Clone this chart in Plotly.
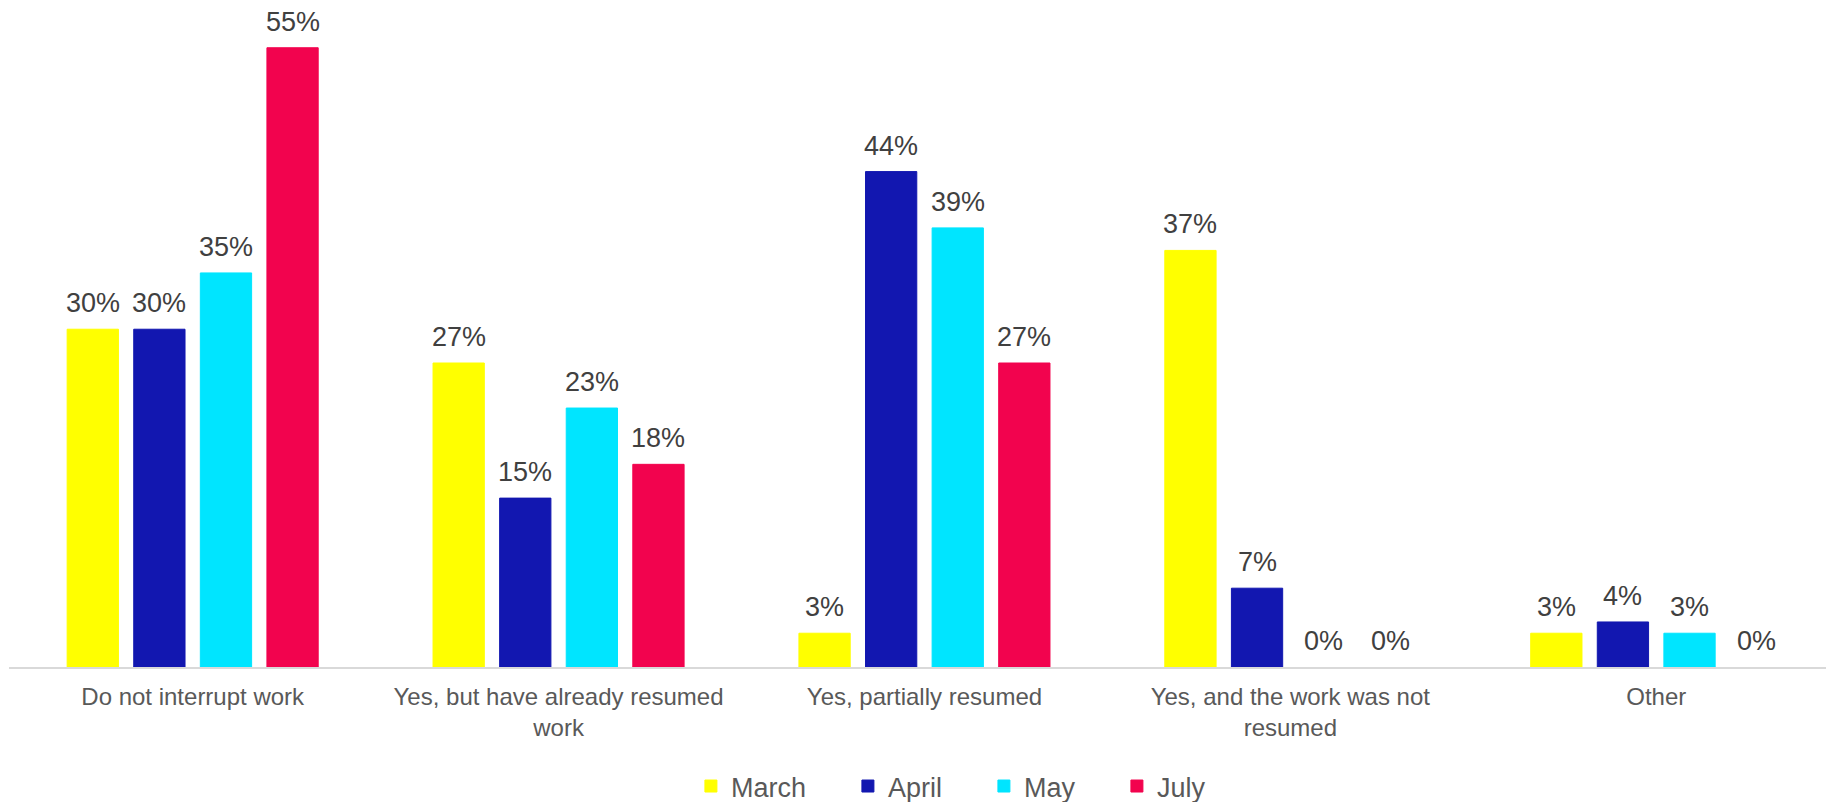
import plotly.graph_objects as go

categories = [
    "Do not interrupt work",
    "Yes, but have already resumed<br>work",
    "Yes, partially resumed",
    "Yes, and the work was not<br>resumed",
    "Other",
]
series_names = ["March", "April", "May", "July"]
march = [30, 27, 3, 37, 3]
april = [30, 15, 44, 7, 4]
may = [35, 23, 39, 0, 3]
july = [55, 18, 27, 0, 0]
colors = ["#FFFF00", "#1217B0", "#00E5FF", "#F2034E"]
legend_widths = [112, 91, 88, 90]

BARGAP = 0.272
BARGROUPGAP = 0.23
FONT = "Liberation Sans, Arial, sans-serif"

all_series = [march, april, may, july]
n_series = len(all_series)
slot = (1 - BARGAP) / n_series

fig = go.Figure()
annotations = []
for k, (name, vals, col, lw) in enumerate(zip(series_names, all_series, colors, legend_widths)):
    fig.add_trace(go.Bar(
        name=name,
        x=list(range(len(categories))),
        y=vals,
        marker=dict(color=col, line=dict(width=[1 if v > 0 else 0 for v in vals], color=col)),
        legendwidth=lw,
        hoverinfo="skip",
    ))
    offset = (k - (n_series - 1) / 2) * slot
    for i, v in enumerate(vals):
        annotations.append(dict(
            x=i + offset, y=v, xref="x", yref="y",
            text=f"{v}%", showarrow=False,
            yanchor="middle", xanchor="center", yshift=26,
            font=dict(family=FONT, size=27, color="#404040"),
        ))

fig.update_layout(
    width=1826, height=802,
    margin=dict(l=9, r=0, t=0, b=135, autoexpand=False),
    paper_bgcolor="white", plot_bgcolor="white",
    barmode="group",
    bargap=BARGAP,
    bargroupgap=BARGROUPGAP,
    font=dict(family=FONT, color="#595959"),
    showlegend=True,
    annotations=annotations,
    legend=dict(
        orientation="h",
        x=0.3753, xanchor="left",
        y=-0.1424, yanchor="top",
        font=dict(family=FONT, size=27, color="#595959"),
        itemclick=False, itemdoubleclick=False,
    ),
    xaxis=dict(
        tickmode="array",
        tickvals=list(range(len(categories))),
        ticktext=categories,
        range=[-0.502, 4.464],
        showline=True, linecolor="#D9D9D9", linewidth=1.5,
        ticks="", showgrid=False, zeroline=False,
        tickfont=dict(size=24, color="#595959"),
        ticklabelstandoff=7,
        automargin=False,
    ),
    yaxis=dict(
        range=[0, 59.24],
        visible=False, showgrid=False, zeroline=False,
        automargin=False,
    ),
)

# remove the browser's default 8px page margin so the figure fills the window
fig.write_html(
    "out.html",
    config={"displayModeBar": False},
    post_script="document.body.style.margin='0px';",
)
